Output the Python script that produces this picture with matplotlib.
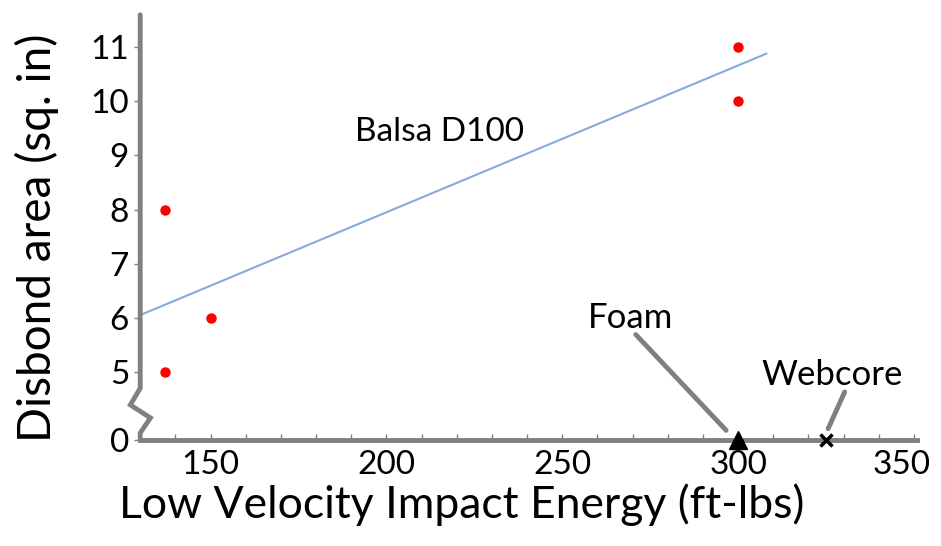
import matplotlib
matplotlib.use("Agg")
from matplotlib import pyplot as plt
from matplotlib.ticker import MultipleLocator
from matplotlib.transforms import ScaledTranslation

plt.rcParams["font.family"] = ["Lato", "DejaVu Sans"]

# data
balsa_energy = [137, 137, 150, 300, 300]
balsa_area = [8, 5, 6, 11, 10]
trend_energy = [130, 308]
trend_area = [6.05, 10.88]
foam_energy = [300]
webcore_energy = [325]
y_ticks = [5, 6, 7, 8, 9, 10, 11]
x_ticks = [150, 200, 250, 300, 350]

# broken axis: "0" is drawn just below the 5 tick
y_zero = 3.74
axis_grey = "#808080"

fig = plt.figure(figsize=(9.41, 5.46), dpi=100)
ax = fig.add_axes([0.149, 0.194, 0.826, 0.779])

ax.plot(trend_energy, trend_area, color="#86abd8", lw=1.5)
ax.plot(balsa_energy, balsa_area, "o", color="red", ms=6.5, zorder=4)
ax.plot(foam_energy, [y_zero] * len(foam_energy), "^", color="black", ms=13,
        clip_on=False, zorder=5)
ax.plot(webcore_energy, [y_zero] * len(webcore_energy), "x", color="black", ms=9,
        mew=2.5, clip_on=False, zorder=5)

ax.set_xlim(130, 351)
ax.set_ylim(y_zero, 11.6)

ax.set_xticks(x_ticks)
ax.xaxis.set_minor_locator(MultipleLocator(10))
ax.set_yticks(y_ticks + [y_zero])
ax.set_yticklabels([str(t) for t in y_ticks] + ["0"])
ax.tick_params(axis="x", which="both", direction="in", length=4, width=1,
               color=axis_grey, labelsize=24, pad=7)
ax.tick_params(axis="y", direction="out", length=4, width=1,
               color=axis_grey, labelsize=24, pad=4)
# last x label nudged left so it stays inside the picture
last = ax.get_xticklabels()[-1]
last.set_transform(last.get_transform() + ScaledTranslation(-12 / 100, 0, fig.dpi_scale_trans))

for side in ["top", "right", "left"]:
    ax.spines[side].set_visible(False)
ax.spines["bottom"].set_color(axis_grey)
ax.spines["bottom"].set_linewidth(3.5)

# y axis with the zigzag break
brk_x = [130, 130, 127.2, 132.9, 130, 130]
brk_y = [11.6, 4.70, 4.39, 4.15, 3.87, y_zero]
ax.plot(brk_x, brk_y, color=axis_grey, lw=3.5, clip_on=False,
        solid_joinstyle="miter", solid_capstyle="round", zorder=3)

ax.text(215, 9.43, "Balsa D100", fontsize=24, ha="center", va="center")
ax.text(269.5, 6.0, "Foam", fontsize=25, ha="center", va="center")
ax.plot([270.9, 296.6], [5.69, 3.92], color=axis_grey, lw=3.5,
        solid_capstyle="round")
ax.text(326.6, 4.94, "Webcore", fontsize=25, ha="center", va="center")
ax.plot([330.3, 325.6], [4.63, 3.95], color=axis_grey, lw=3.5,
        solid_capstyle="round")

ax.set_xlabel("Low Velocity Impact Energy (ft-lbs)", fontsize=32)
ax.xaxis.set_label_coords(0.414, -0.102)
ax.set_ylabel("Disbond area (sq. in)", fontsize=33)
ax.yaxis.set_label_coords(-0.105, 0.475)

fig.savefig("out.png", dpi=100)
